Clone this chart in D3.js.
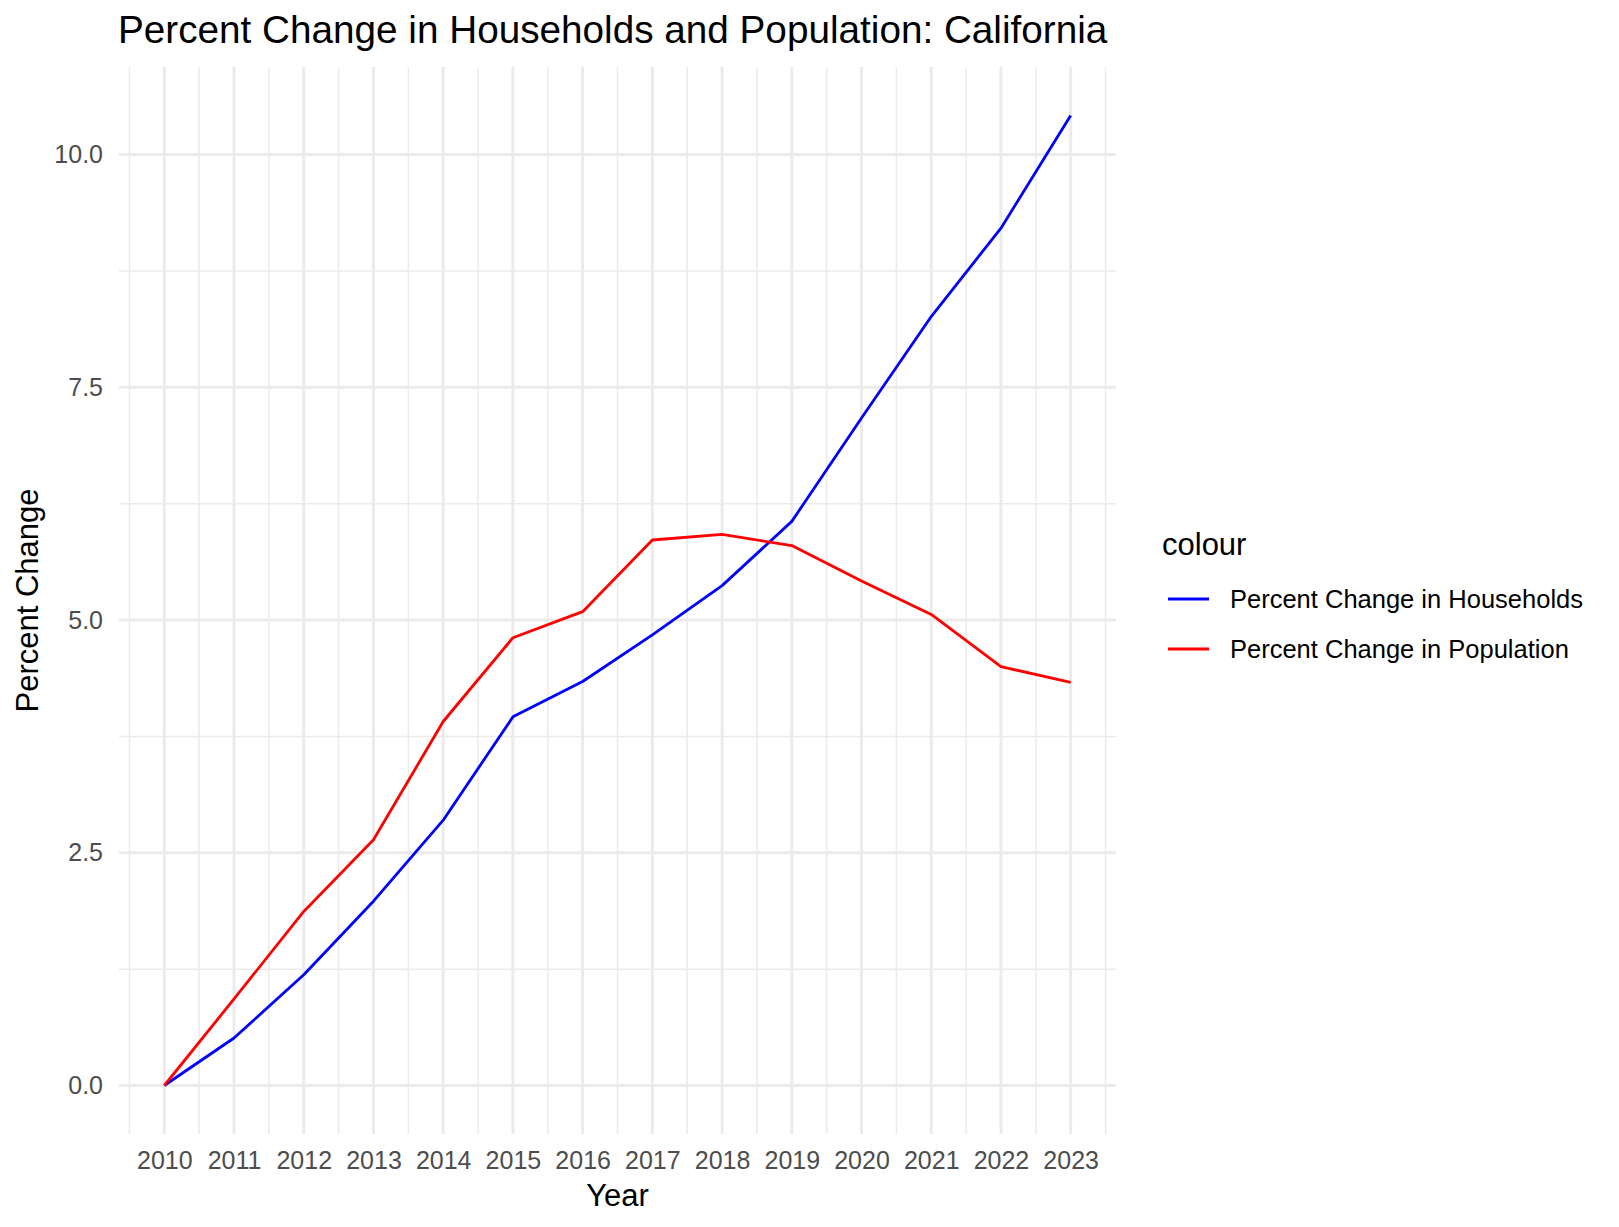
<!DOCTYPE html>
<html>
<head>
<meta charset="utf-8">
<script src="https://cdn.jsdelivr.net/npm/d3@7"></script>
<style>
  body { margin: 0; background: #fff; }
  svg text { font-family: "Liberation Sans", Arial, sans-serif; }
</style>
</head>
<body>
<div id="chart"></div>
<script>
// data
var years = [2010, 2011, 2012, 2013, 2014, 2015, 2016, 2017, 2018, 2019, 2020, 2021, 2022, 2023];
var households = [0, 0.51, 1.19, 1.98, 2.85, 3.96, 4.34, 4.84, 5.37, 6.06, 7.17, 8.26, 9.21, 10.42];
var population = [0, 0.93, 1.87, 2.64, 3.91, 4.81, 5.09, 5.86, 5.92, 5.80, 5.42, 5.06, 4.50, 4.33];
var yTicks = [0, 2.5, 5, 7.5, 10];
var yMinor = [1.25, 3.75, 6.25, 8.75];
var seriesNames = ['Percent Change in Households', 'Percent Change in Population'];
var seriesColors = ['#0000ff', '#ff0000'];

var W = 1619, H = 1227;
var panel = { left: 119, right: 1116, top: 67, bottom: 1134 };

var svg = d3.select('#chart')
    .append('svg')
    .attr('width', W)
    .attr('height', H);

// ggplot style 5% expansion
var xPad = (years[years.length - 1] - years[0]) * 0.05;
var x = d3.scaleLinear()
    .domain([years[0] - xPad, years[years.length - 1] + xPad])
    .range([panel.left, panel.right]);

var allVals = households.concat(population);
var yMin = d3.min(allVals), yMax = d3.max(allVals);
var yPad = (yMax - yMin) * 0.05;
var y = d3.scaleLinear()
    .domain([yMin - yPad, yMax + yPad])
    .range([panel.bottom, panel.top]);

var grid = svg.append('g');

// minor grid
var xMinor = years.map(function(v) { return v - 0.5; }).concat([years[years.length - 1] + 0.5]);
grid.selectAll('.xminor')
    .data(xMinor)
    .enter()
    .append('line')
    .attr('x1', function(d) { return x(d); })
    .attr('x2', function(d) { return x(d); })
    .attr('y1', panel.top)
    .attr('y2', panel.bottom)
    .attr('stroke', '#ebebeb')
    .attr('stroke-width', 1.5);

grid.selectAll('.yminor')
    .data(yMinor)
    .enter()
    .append('line')
    .attr('x1', panel.left)
    .attr('x2', panel.right)
    .attr('y1', function(d) { return y(d); })
    .attr('y2', function(d) { return y(d); })
    .attr('stroke', '#ebebeb')
    .attr('stroke-width', 1.5);

// major grid
grid.selectAll('.xmajor')
    .data(years)
    .enter()
    .append('line')
    .attr('x1', function(d) { return x(d); })
    .attr('x2', function(d) { return x(d); })
    .attr('y1', panel.top)
    .attr('y2', panel.bottom)
    .attr('stroke', '#ebebeb')
    .attr('stroke-width', 3);

grid.selectAll('.ymajor')
    .data(yTicks)
    .enter()
    .append('line')
    .attr('x1', panel.left)
    .attr('x2', panel.right)
    .attr('y1', function(d) { return y(d); })
    .attr('y2', function(d) { return y(d); })
    .attr('stroke', '#ebebeb')
    .attr('stroke-width', 3);

// axes (text only, like theme_minimal)
var xAxis = svg.append('g')
    .attr('transform', 'translate(0,' + panel.bottom + ')')
    .call(d3.axisBottom(x).tickValues(years).tickFormat(d3.format('d')).tickSize(0).tickPadding(17));
xAxis.select('.domain').remove();
xAxis.selectAll('text')
    .attr('fill', '#4d4d4d')
    .style('font-size', '25px')
    .style('font-family', '"Liberation Sans", Arial, sans-serif');

var yAxis = svg.append('g')
    .attr('transform', 'translate(' + panel.left + ',0)')
    .call(d3.axisLeft(y).tickValues(yTicks).tickFormat(d3.format('.1f')).tickSize(0).tickPadding(16));
yAxis.select('.domain').remove();
yAxis.selectAll('text')
    .attr('fill', '#4d4d4d')
    .style('font-size', '25px')
    .style('font-family', '"Liberation Sans", Arial, sans-serif');

// lines
var series = [households, population];
var line = d3.line()
    .x(function(d, i) { return x(years[i]); })
    .y(function(d) { return y(d); });

svg.selectAll('.series')
    .data(series)
    .enter()
    .append('path')
    .attr('d', function(d) { return line(d); })
    .attr('fill', 'none')
    .attr('stroke', function(d, i) { return seriesColors[i]; })
    .attr('stroke-width', 2.8)
    .attr('stroke-linejoin', 'round');

// titles
svg.append('text')
    .attr('x', 118)
    .attr('y', 43)
    .attr('fill', '#000')
    .style('font-size', '38.7px')
    .text('Percent Change in Households and Population: California');

svg.append('text')
    .attr('x', (panel.left + panel.right) / 2)
    .attr('y', 1206)
    .attr('text-anchor', 'middle')
    .style('font-size', '31px')
    .text('Year');

svg.append('text')
    .attr('transform', 'translate(38,' + ((panel.top + panel.bottom) / 2) + ') rotate(-90)')
    .attr('text-anchor', 'middle')
    .style('font-size', '31px')
    .text('Percent Change');

// legend
var legend = svg.append('g').attr('transform', 'translate(1162,0)');
legend.append('text')
    .attr('x', 0)
    .attr('y', 555)
    .style('font-size', '31px')
    .text('colour');

var keys = legend.selectAll('.key')
    .data(seriesNames)
    .enter()
    .append('g')
    .attr('transform', function(d, i) { return 'translate(0,' + (599 + i * 50) + ')'; });

keys.append('line')
    .attr('x1', 6)
    .attr('x2', 47)
    .attr('stroke', function(d, i) { return seriesColors[i]; })
    .attr('stroke-width', 2.8);

keys.append('text')
    .attr('x', 68)
    .attr('y', 9)
    .style('font-size', '25.5px')
    .text(function(d) { return d; });
</script>
</body>
</html>
